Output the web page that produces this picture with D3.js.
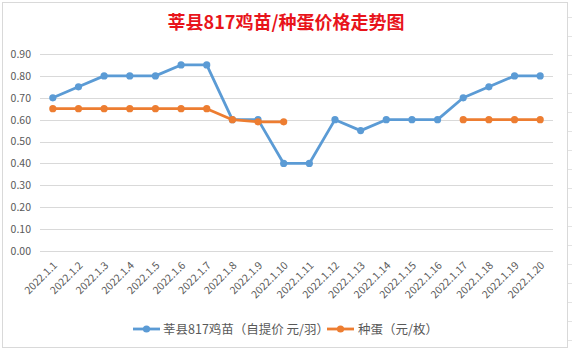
<!DOCTYPE html>
<html><head><meta charset="utf-8">
<script src="https://cdn.jsdelivr.net/npm/d3@7"></script>
<style>body{margin:0;background:#fff;}svg{display:block;}</style>
</head><body>
<script>
const categories = ["2022.1.1","2022.1.2","2022.1.3","2022.1.4","2022.1.5","2022.1.6","2022.1.7","2022.1.8","2022.1.9","2022.1.10","2022.1.11","2022.1.12","2022.1.13","2022.1.14","2022.1.15","2022.1.16","2022.1.17","2022.1.18","2022.1.19","2022.1.20"];
const chickValues = [0.70,0.75,0.80,0.80,0.80,0.85,0.85,0.60,0.60,0.40,0.40,0.60,0.55,0.60,0.60,0.60,0.70,0.75,0.80,0.80];
const eggValues = [0.65,0.65,0.65,0.65,0.65,0.65,0.65,0.60,0.59,0.59,null,null,null,null,null,null,0.60,0.60,0.60,0.60];
const yTicks = [0,0.1,0.2,0.3,0.4,0.5,0.6,0.7,0.8,0.9];
const seriesNames = ["莘县817鸡苗（自提价 元/羽）","种蛋（元/枚）"];
const titleText = "莘县817鸡苗/种蛋价格走势图";

const W=572,H=351;
const svg=d3.select("body").append("svg").attr("width",W).attr("height",H);
const font="'Microsoft YaHei','Noto Sans CJK SC','Noto Sans',sans-serif";

// spreadsheet background lines
const bg=svg.append("g").attr("stroke","#e3e3e3").attr("stroke-width",1);
[17,36,55,74,93,112,131,150,169,188,207,226,245,264,283,302,321,340].forEach(y=>bg.append("line").attr("x1",568).attr("x2",572).attr("y1",y+0.5).attr("y2",y+0.5));
// chart border
svg.append("rect").attr("x",2.5).attr("y",2.5).attr("width",565).attr("height",345).attr("fill","#fff").attr("stroke","#d9d9d9");

const x=d3.scaleBand().domain(categories).range([40,553]);
const y=d3.scaleLinear().domain([0,0.9]).range([251,54]);
const cx=d=>x(d)+x.bandwidth()/2;

// gridlines
svg.append("g").selectAll("line").data(yTicks).join("line")
 .attr("x1",40).attr("x2",553).attr("y1",d=>Math.round(y(d))+0.5).attr("y2",d=>Math.round(y(d))+0.5)
 .attr("stroke","#d9d9d9").attr("stroke-width",1);

// y axis labels
const yAxis=d3.axisLeft(y).tickValues(yTicks).tickFormat(d3.format(".2f")).tickSize(0).tickPadding(9);
const gy=svg.append("g").attr("transform","translate(40,0)").call(yAxis);
gy.select(".domain").remove();
gy.selectAll("text").attr("font-family",font).attr("font-size","10.5px").attr("fill","#595959");

// x axis labels
const xAxis=d3.axisBottom(x).tickSize(0).tickPadding(0);
const gx=svg.append("g").attr("transform","translate(0,251)").call(xAxis);
gx.select(".domain").remove();
gx.selectAll("text").attr("font-family",font).attr("font-size","10.5px").attr("fill","#595959")
 .attr("text-anchor","end").attr("dy",null).attr("y",0)
 .attr("transform","translate(5,15) rotate(-45)");

// lines
const line=d3.line().defined(d=>d.v!=null).x(d=>cx(d.c)).y(d=>y(d.v));
const series=[{vals:chickValues,color:"#5B9BD5"},{vals:eggValues,color:"#ED7D31"}];
series.forEach(s=>{
 const data=categories.map((c,i)=>({c,v:s.vals[i]}));
 svg.append("path").datum(data).attr("d",line).attr("fill","none").attr("stroke",s.color).attr("stroke-width",2.8).attr("stroke-linejoin","round").attr("stroke-linecap","round");
 svg.append("g").selectAll("circle").data(data.filter(d=>d.v!=null)).join("circle")
  .attr("cx",d=>cx(d.c)).attr("cy",d=>y(d.v)).attr("r",3.6).attr("fill",s.color);
});

// title
svg.append("text").attr("x",286).attr("y",29).attr("text-anchor","middle")
 .attr("font-family","'Noto Sans CJK SC',sans-serif").attr("font-weight","bold").attr("font-size","18px").attr("fill","#E8141B").text(titleText);

// legend
const leg=[{x:133,tx:163,color:"#5B9BD5",name:seriesNames[0]},{x:327,tx:358,color:"#ED7D31",name:seriesNames[1]}];
leg.forEach(l=>{
 svg.append("line").attr("x1",l.x).attr("x2",l.x+27).attr("y1",329).attr("y2",329).attr("stroke",l.color).attr("stroke-width",2.8);
 svg.append("circle").attr("cx",l.x+13.5).attr("cy",329).attr("r",3.6).attr("fill",l.color);
 svg.append("text").attr("x",l.tx).attr("y",333.5).attr("font-family",font).attr("font-size","12.5px").attr("fill","#595959").text(l.name);
});
</script>
</body></html>
